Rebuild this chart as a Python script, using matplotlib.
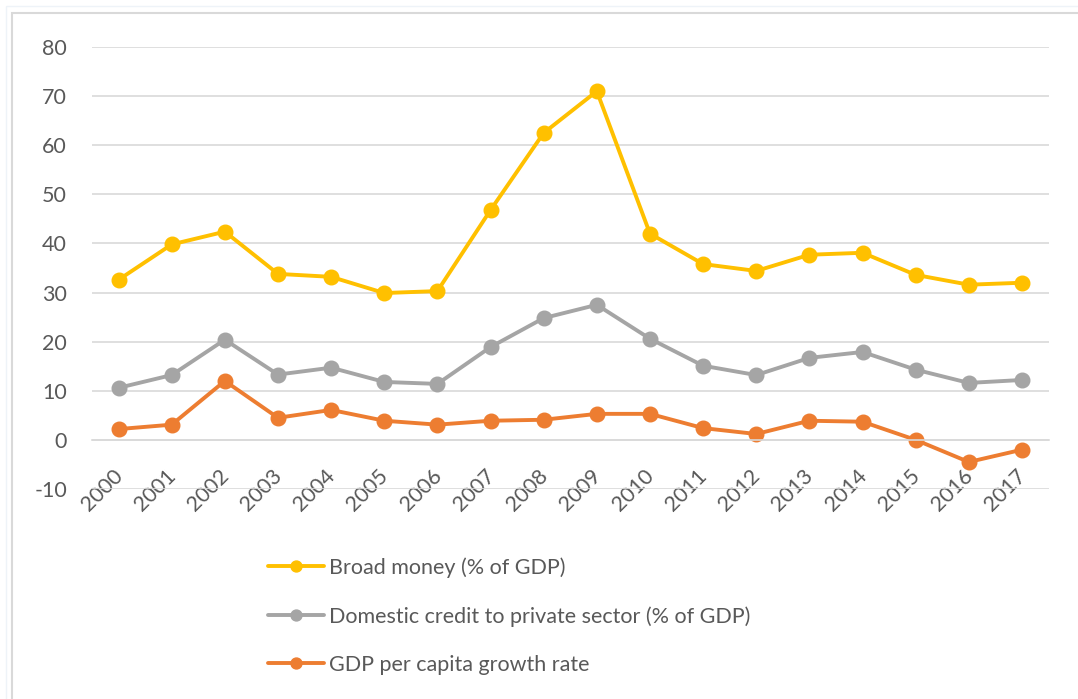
import matplotlib
matplotlib.use("Agg")
from matplotlib import pyplot as plt
from matplotlib.patches import Rectangle
from matplotlib.transforms import ScaledTranslation

years = [str(y) for y in range(2000, 2018)]
broad_money = [32.6, 39.8, 42.4, 33.8, 33.2, 29.9, 30.3, 46.8, 62.5, 71.0,
               42.0, 35.8, 34.4, 37.7, 38.1, 33.6, 31.6, 32.0]
domestic_credit = [10.6, 13.2, 20.4, 13.3, 14.7, 11.8, 11.4, 18.9, 24.8, 27.5,
                   20.6, 15.1, 13.2, 16.7, 17.9, 14.3, 11.6, 12.2]
gdp_growth = [2.2, 3.1, 12.0, 4.5, 6.1, 3.9, 3.1, 3.9, 4.1, 5.3,
              5.3, 2.4, 1.2, 3.9, 3.7, 0.0, -4.5, -2.0]
yticks = list(range(-10, 81, 10))

series = [
    ("Broad money (% of GDP)", broad_money, "#FFC000"),
    ("Domestic credit to private sector (% of GDP)", domestic_credit, "#A5A5A5"),
    ("GDP per capita growth rate", gdp_growth, "#ED7D31"),
]

plt.rcParams['font.family'] = ['Lato', 'DejaVu Sans']
plt.rcParams['axes.unicode_minus'] = False
text_col = "#595959"
fs = 15.5

fig = plt.figure(figsize=(10.78, 6.99), dpi=100)
fig.patches.append(Rectangle((12 / 1078, -0.05), 1.2, 1 - 13 / 699 + 0.05,
                             transform=fig.transFigure, fill=False,
                             edgecolor="#D9D9D9", linewidth=1.5))
fig.patches.append(Rectangle((6 / 1078, -0.05), 1.2, 1 - 6 / 699 + 0.05,
                             transform=fig.transFigure, fill=False,
                             edgecolor="#EEF3F8", linewidth=1.0))

ax = fig.add_axes([92 / 1078, 1 - 489 / 699, (1048.5 - 92) / 1078, (489 - 47) / 699])
x = list(range(len(years)))
handles = []
for label, vals, col in series:
    h, = ax.plot(x, vals, color=col, linewidth=2.8, marker='o', markersize=10.5,
                 label=label, solid_capstyle='round')
    handles.append(h)

ax.set_xlim(-0.5, len(years) - 0.5)
ax.set_ylim(-10, 80)
ax.set_yticks(yticks)
ax.yaxis.grid(True, color="#D9D9D9", linewidth=1.2)
ax.set_axisbelow(True)
for s in ["top", "right", "left"]:
    ax.spines[s].set_visible(False)
ax.spines["bottom"].set_position(("data", 0))
ax.spines["bottom"].set_color("#D9D9D9")
ax.spines["bottom"].set_linewidth(1.2)
ax.tick_params(axis='both', length=0, colors=text_col, labelsize=fs)
ax.tick_params(axis='y', pad=18)
ax.set_xticks(x)
ax.set_xticklabels(years, rotation=45, ha='right', va='top')
ax.tick_params(axis='x', pad=17)
shift = ScaledTranslation(8 / 100, -2 / 100, fig.dpi_scale_trans)
for t in ax.get_xticklabels():
    t.set_transform(t.get_transform() + shift)

leg = fig.legend(handles=handles, loc='upper left',
                 bbox_to_anchor=(249 / 1078, 1 - 538 / 699), frameon=False,
                 fontsize=fs, labelcolor=text_col, handlelength=2.6,
                 handletextpad=0.2, labelspacing=1.3, markerscale=0.75)

fig.savefig("out.png", dpi=100)
